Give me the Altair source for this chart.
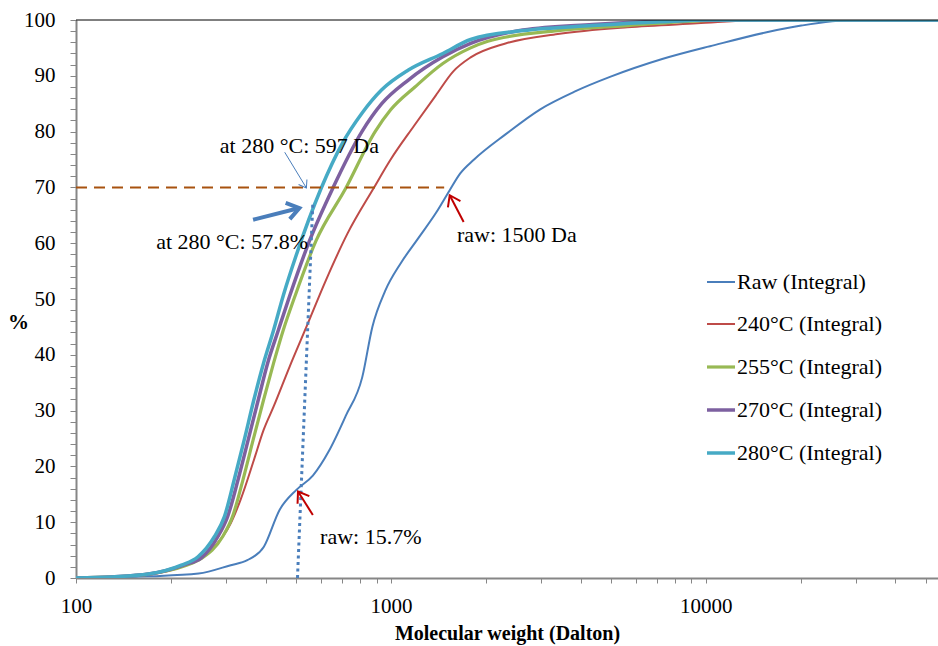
import altair as alt
import pandas as pd

FONT = "Liberation Serif"

# ---------------- data ----------------
series_names = ["Raw (Integral)", "240°C (Integral)", "255°C (Integral)",
                "270°C (Integral)", "280°C (Integral)"]
series_colors = ["#4A7EBB", "#BE4B48", "#98B954", "#7D60A0", "#46AAC5"]
series_widths = [2, 2, 3.2, 3.5, 3.5]

raw_mw = [100, 170, 245, 310, 350, 395, 443, 501, 566, 636, 718, 811, 873, 958,
          1077, 1222, 1389, 1537, 1660, 1837, 2311, 2980, 3843, 4961, 7268,
          10650, 15600, 20100, 29400, 60000]
raw_pct = [0, 0.3, 0.8, 2.3, 3.2, 5.6, 12.2, 15.8, 18.4, 22.8, 29.0, 36.0, 45.0,
           51.4, 56.5, 60.9, 65.4, 69.5, 72.5, 75.0, 79.5, 84.0, 87.2, 89.8,
           93.0, 95.5, 97.8, 99.0, 100, 100]

t240_mw = [100, 130, 170, 216, 244, 275, 310, 333, 367, 394, 424, 477, 539, 622,
           729, 880, 998, 1183, 1389, 1578, 1791, 2311, 3389, 5632, 9380, 15000,
           60000]
t240_pct = [0, 0.2, 0.6, 2.0, 3.5, 5.6, 9.8, 14.0, 21.1, 26.5, 30.7, 37.9, 45.0,
            53.4, 61.8, 69.8, 75.0, 81.0, 86.5, 90.8, 93.3, 95.8, 97.5, 98.7,
            99.4, 100, 100]

t255_mw = [100, 130, 170, 222, 250, 292, 314, 339, 365, 394, 424, 455, 495, 579,
           718, 891, 998, 1192, 1462, 1791, 2031, 3389, 5632, 12000, 60000]
t255_pct = [0, 0.2, 0.7, 2.2, 3.5, 7.4, 11.0, 17.6, 24.7, 31.9, 38.5, 44.4, 50.4,
            60.5, 69.8, 80.0, 83.9, 88.0, 92.2, 95.0, 96.2, 98.1, 99.0, 100, 100]

t270_mw = [100, 130, 170, 222, 250, 282, 303, 327, 352, 379, 406, 439, 476, 552,
           653, 809, 935, 1133, 1462, 1791, 2625, 4365, 7263, 10100, 60000]
t270_pct = [0, 0.2, 0.7, 2.4, 3.6, 7.4, 11.0, 17.6, 24.7, 31.9, 38.5, 44.4, 50.4,
            60.5, 69.8, 80.0, 85.0, 89.2, 93.4, 95.8, 98.2, 99.2, 99.8, 100, 100]

t280_mw = [100, 130, 170, 216, 244, 275, 296, 318, 342, 367, 394, 424, 455,
           500, 600, 701, 809, 935, 1133, 1462, 1791, 2625, 4365, 7263, 10100,
           60000]
t280_pct = [0, 0.2, 0.7, 2.3, 3.8, 7.4, 11.0, 17.6, 24.7, 31.9, 38.5, 44.4, 50.6,
            57.8, 69.8, 77.9, 83.3, 87.5, 91.0, 94.0, 96.5, 98.1, 99.0,
            99.7, 100, 100]

x_ticks = [100, 200, 300, 400, 500, 600, 700, 800, 900,
           1000, 2000, 3000, 4000, 5000, 6000, 7000, 8000, 9000,
           10000, 20000, 30000, 40000, 50000]
y_ticks = list(range(0, 101, 2))

# annotations
ann_text = ["at 280 °C: 597 Da", "at 280 °C: 57.8%", "raw: 1500 Da", "raw: 15.7%"]
ann_text_mw = [512, 313, 2512, 863]
ann_text_pct = [77.4, 60.2, 61.5, 7.4]

arrow_tail_mw = [460, 365, 1702, 565]
arrow_tail_pct = [76.3, 64.2, 63.8, 11.3]
arrow_tip_mw = [539, 512, 1537, 507]
arrow_tip_pct = [69.9, 66.3, 68.6, 15.5]
arrow_colors = ["#4A7EBB", "#4A7EBB", "#C00000", "#C00000"]
arrow_widths = [1, 4, 2, 2]
arrow_angles = [148.6, 75.7, 333.4, 327.2]
arrow_head_sizes = [196, 576, 400, 400]

dash_mw = [100, 1476]
dash_pct = 70
dot_mw = [505, 565]
dot_pct = [0, 67.2]

# ---------------- build tables ----------------
rows = []
for name, mw, pct in zip(series_names,
                         [raw_mw, t240_mw, t255_mw, t270_mw, t280_mw],
                         [raw_pct, t240_pct, t255_pct, t270_pct, t280_pct]):
    for i, (m, p) in enumerate(zip(mw, pct)):
        rows.append({"series": name, "mw": m, "pct": p, "order": i})
df = pd.DataFrame(rows)

arrows = pd.DataFrame({
    "x": arrow_tail_mw, "y": arrow_tail_pct,
    "x2": arrow_tip_mw, "y2": arrow_tip_pct,
    "color": arrow_colors, "w": arrow_widths,
    "angle": arrow_angles, "size": arrow_head_sizes,
})
texts = pd.DataFrame({"x": ann_text_mw, "y": ann_text_pct, "t": ann_text})
dash_df = pd.DataFrame({"x": [dash_mw[0]], "x2": [dash_mw[1]], "y": [dash_pct]})
dot_df = pd.DataFrame({"x": [dot_mw[0]], "x2": [dot_mw[1]],
                       "y": [dot_pct[0]], "y2": [dot_pct[1]]})
top_df = pd.DataFrame({"y": [100]})

x_scale = alt.Scale(type="log", domain=[100, 54600], nice=False)
y_scale = alt.Scale(domain=[0, 100], nice=False)

x_axis = alt.Axis(
    orient="bottom",
    values=x_ticks,
    labelExpr="(datum.value == 100 || datum.value == 1000 || datum.value == 10000) ? datum.label : ''",
    format="d",
    labelOverlap=False,
    labelFlush=False,
    labelBound=False,
    grid=False,
    tickSize=5,
    labelPadding=12,
    title="Molecular weight (Dalton)",
    titleFont=FONT, titleFontSize=20, titleFontWeight="bold",
    titleBaseline="alphabetic", titleY=61, titleColor="black",
)
y_axis = alt.Axis(
    orient="left",
    values=y_ticks,
    labelExpr="datum.value % 10 === 0 ? datum.label : ''",
    labelOverlap=False,
    labelFlush=False,
    labelBound=False,
    grid=False,
    tickSize=6,
    labelPadding=15,
    title="%",
    titleFont=FONT, titleFontSize=21, titleFontWeight="bold",
    titleAngle=0, titleAlign="center", titleBaseline="middle",
    titleX=-58, titleY=302, titleColor="black",
)

legend = alt.Legend(
    title=None, orient="none", legendX=629, legendY=247,
    symbolType="stroke", symbolSize=784, labelFont=FONT, labelFontSize=22,
    labelColor="black", labelOffset=0, rowPadding=16, padding=0, labelLimit=300,
)


def X(f):
    return alt.X(f, scale=x_scale, axis=x_axis)


def Y(f):
    return alt.Y(f, scale=y_scale, axis=y_axis)


lines = alt.Chart(df).mark_line(interpolate="monotone", clip=True).encode(
    x=X("mw:Q"),
    y=Y("pct:Q"),
    color=alt.Color("series:N", scale=alt.Scale(domain=series_names, range=series_colors),
                    legend=legend),
    strokeWidth=alt.StrokeWidth("series:N",
                                scale=alt.Scale(type="ordinal", domain=series_names,
                                                range=series_widths),
                                legend=legend),
    order=alt.Order("order:Q"),
)

top_rule = alt.Chart(top_df).mark_rule(color="black", strokeWidth=1).encode(y=Y("y:Q"))

dash = alt.Chart(dash_df).mark_rule(color="#A8520F", strokeWidth=2, strokeDash=[11, 7]).encode(
    x=X("x:Q"), x2="x2:Q", y=Y("y:Q")
)
dot = alt.Chart(dot_df).mark_rule(color="#4A7EBB", strokeWidth=3, strokeDash=[3, 3.5]).encode(
    x=X("x:Q"), x2="x2:Q", y=Y("y:Q"), y2="y2:Q"
)
shafts = alt.Chart(arrows).mark_rule().encode(
    x=X("x:Q"), x2="x2:Q", y=Y("y:Q"), y2="y2:Q",
    color=alt.Color("color:N", scale=None),
    strokeWidth=alt.StrokeWidth("w:Q", scale=None),
)
heads = alt.Chart(arrows).mark_point(shape="M-0.7,1L0,0L0.7,1", filled=False, opacity=1).encode(
    x=X("x2:Q"), y=Y("y2:Q"),
    color=alt.Color("color:N", scale=None),
    strokeWidth=alt.StrokeWidth("w:Q", scale=None),
    angle=alt.Angle("angle:Q", scale=None),
    size=alt.Size("size:Q", scale=None),
)
labels = alt.Chart(texts).mark_text(font=FONT, fontSize=22, color="black",
                                    align="center", baseline="middle").encode(
    x=X("x:Q"), y=Y("y:Q"), text="t:N"
)

chart = alt.layer(lines, top_rule, dash, dot, shafts, heads, labels).resolve_scale(
    color="independent", strokeWidth="independent"
).resolve_axis(x="shared", y="shared").properties(
    width=862, height=558,
    autosize=alt.AutoSizeParams(type="none"),
    padding={"left": 76, "top": 20, "right": 0, "bottom": 68},
    background="white",
).configure_view(stroke=None).configure_axis(
    labelFont=FONT, labelFontSize=21, labelColor="black",
    domainColor="#868686", domainWidth=2, tickColor="#868686", tickWidth=1,
    grid=False,
)

chart.save("out.html", embed_options={"renderer": "svg", "actions": False})
